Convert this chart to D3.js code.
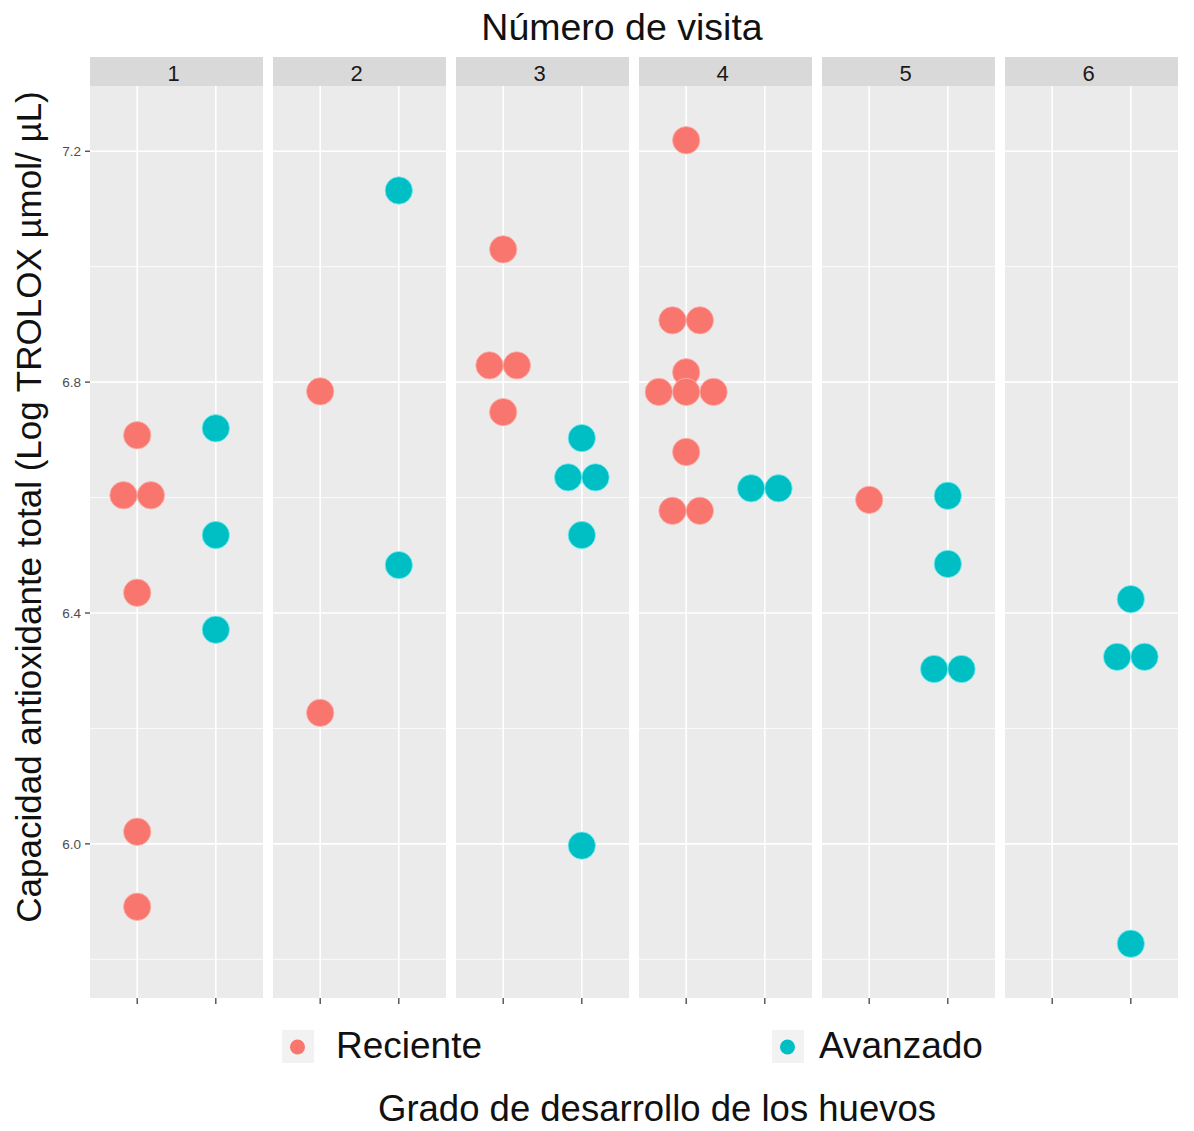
<!DOCTYPE html>
<html>
<head>
<meta charset="utf-8">
<script src="https://cdn.jsdelivr.net/npm/d3@7"></script>
<style>
  body { margin: 0; background: #fff; }
  text { font-family: "Liberation Sans", Arial, sans-serif; }
</style>
</head>
<body>
<div id="chart"></div>
<script>
// data
const visits = ["1", "2", "3", "4", "5", "6"];
const groups = ["Reciente", "Avanzado"];
const colors = ["#F8766D", "#00BFC4"];
const reciente = [
  [6.708, 6.604, 6.604, 6.435, 6.021, 5.891],
  [6.784, 6.227],
  [7.030, 6.829, 6.829, 6.748],
  [7.219, 6.907, 6.907, 6.817, 6.783, 6.783, 6.783, 6.679, 6.577, 6.577],
  [6.596],
  []
];
const avanzado = [
  [6.720, 6.535, 6.371],
  [7.132, 6.483],
  [6.703, 6.635, 6.635, 6.535, 5.997],
  [6.616, 6.616],
  [6.603, 6.485, 6.303, 6.303],
  [6.424, 6.324, 6.324, 5.827]
];
const yTicks = [6.0, 6.4, 6.8, 7.2];
const yMinor = [5.8, 6.2, 6.6, 7.0];

const W = 1194, H = 1131;
const mLeft = 90, mRight = 1178, mTop = 86, mBottom = 998;
const stripH = 29, gap = 10;
const panelW = (mRight - mLeft - gap * (visits.length - 1)) / visits.length;
const dotR = 13.7;

const svg = d3.select("#chart").append("svg")
  .attr("width", W).attr("height", H);

const y = d3.scaleLinear().domain([5.733, 7.313]).range([mBottom, mTop]);
const panelX = d3.scaleBand().domain(visits).range([mLeft, mRight + gap]).paddingInner(0);
const x = d3.scalePoint().domain(groups).range([0, panelW]).padding(0.6);

visits.forEach(function(v, i) {
  let g = svg.append("g").attr("transform", `translate(${panelX(v)},0)`);

  g.append("rect").attr("x", 0).attr("y", mTop).attr("width", panelW)
    .attr("height", mBottom - mTop).attr("fill", "#EBEBEB");

  g.append("rect").attr("x", 0).attr("y", mTop - stripH).attr("width", panelW)
    .attr("height", stripH).attr("fill", "#D9D9D9");
  g.append("text").attr("x", panelW / 2 - 3).attr("y", mTop - 5)
    .attr("text-anchor", "middle").attr("font-size", 22).attr("fill", "#1A1A1A")
    .text(v);

  // grid
  g.selectAll(".minor").data(yMinor).enter().append("line")
    .attr("x1", 0).attr("x2", panelW)
    .attr("y1", d => y(d)).attr("y2", d => y(d))
    .attr("stroke", "#fff").attr("stroke-width", 0.8);
  g.selectAll(".major").data(yTicks).enter().append("line")
    .attr("x1", 0).attr("x2", panelW)
    .attr("y1", d => y(d)).attr("y2", d => y(d))
    .attr("stroke", "#fff").attr("stroke-width", 1.6);
  g.selectAll(".vmajor").data(groups).enter().append("line")
    .attr("x1", d => x(d)).attr("x2", d => x(d))
    .attr("y1", mTop).attr("y2", mBottom)
    .attr("stroke", "#fff").attr("stroke-width", 1.6);

  // x ticks
  g.selectAll(".xt").data(groups).enter().append("line")
    .attr("x1", d => x(d)).attr("x2", d => x(d))
    .attr("y1", mBottom).attr("y2", mBottom + 6)
    .attr("stroke", "#333").attr("stroke-width", 1.2);

  // dots, stacked when values repeat
  [reciente[i], avanzado[i]].forEach(function(vals, gi) {
    let counts = d3.rollup(vals, a => a.length, d => d);
    let seen = new Map();
    let pts = vals.map(function(d) {
      let n = counts.get(d);
      let k = seen.get(d) || 0;
      seen.set(d, k + 1);
      return {value: d, off: (k - (n - 1) / 2) * dotR * 2};
    });
    g.selectAll(".dot" + gi).data(pts).enter().append("circle")
      .attr("cx", d => x(groups[gi]) + d.off)
      .attr("cy", d => y(d.value))
      .attr("r", dotR)
      .attr("fill", colors[gi])
      .attr("stroke", gi === 0 ? "#FBB5AE" : "#7FEFF2")
      .attr("stroke-width", 0.8);
  });
});

// y axis
svg.selectAll(".ytick").data(yTicks).enter().append("line")
  .attr("x1", mLeft - 5).attr("x2", mLeft)
  .attr("y1", d => y(d)).attr("y2", d => y(d))
  .attr("stroke", "#333").attr("stroke-width", 1.2);
svg.selectAll(".ylab").data(yTicks).enter().append("text")
  .attr("x", mLeft - 9).attr("y", d => y(d) + 5)
  .attr("text-anchor", "end").attr("font-size", 13.5).attr("fill", "#4D4D4D")
  .text(d => d3.format(".1f")(d));

// titles
svg.append("text").attr("x", 622).attr("y", 40)
  .attr("text-anchor", "middle").attr("font-size", 37.5).attr("fill", "#111")
  .text("Número de visita");
svg.append("text").attr("transform", "translate(41,507) rotate(-90)")
  .attr("text-anchor", "middle").attr("font-size", 35).attr("fill", "#111")
  .text("Capacidad antioxidante total (Log TROLOX µmol/ µL)");
svg.append("text").attr("x", 657).attr("y", 1121)
  .attr("text-anchor", "middle").attr("font-size", 36.5).attr("fill", "#111")
  .text("Grado de desarrollo de los huevos");

// legend
const legendX = [282, 772];
const legendTextX = [336, 819];
groups.forEach(function(gname, gi) {
  let lg = svg.append("g").attr("transform", `translate(${legendX[gi]},1030)`);
  lg.append("rect").attr("width", 32).attr("height", 33).attr("fill", "#F2F2F2");
  lg.append("circle").attr("cx", 15.5).attr("cy", 17).attr("r", 7.5).attr("fill", colors[gi]);
  svg.append("text").attr("x", legendTextX[gi]).attr("y", 1058)
    .attr("font-size", 37).attr("fill", "#111")
    .text(gname);
});
</script>
</body>
</html>
